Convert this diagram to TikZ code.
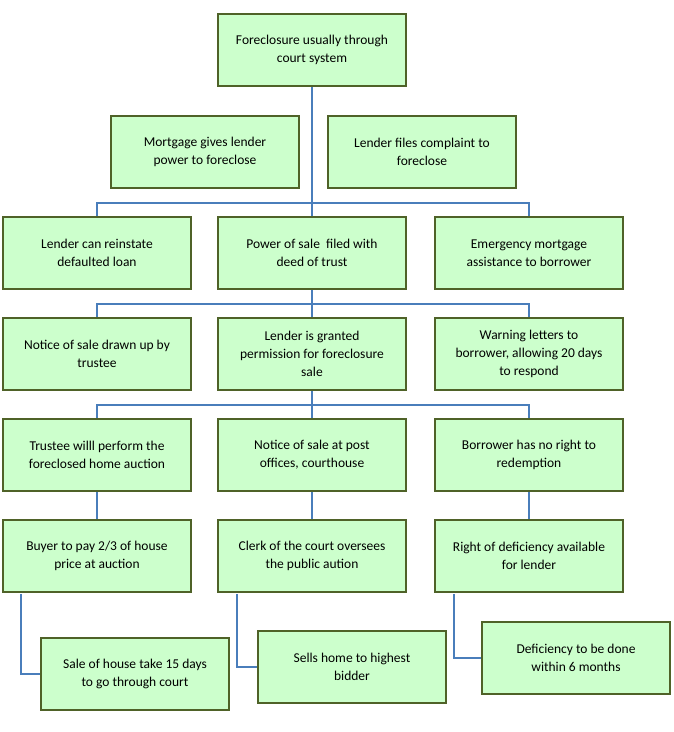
\documentclass[tikz,border=0pt]{standalone}
\usepackage{fontspec}
\setmainfont{Carlito}
\begin{document}
\begin{tikzpicture}[x=1pt,y=-1pt,
  box/.style={draw=boxline,line width=2pt,fill=boxfill,minimum width=188pt,minimum height=72pt,align=center,font=\fontsize{13.5}{18}\selectfont,inner sep=2pt},
  con/.style={draw=conline,line width=2.2pt}]
\definecolor{boxfill}{HTML}{CCFFCC}
\definecolor{boxline}{HTML}{4F6228}
\definecolor{conline}{HTML}{4A7EBB}
\useasboundingbox[fill=white] (0,0) rectangle (674,732);
\node[box] (top) at (312,50) {Foreclosure usually through\\court system};
\node[box] (mort) at (205,152) {Mortgage gives lender\\power to foreclose};
\node[box] (files) at (422,152) {Lender files complaint to\\foreclose};
\node[box] (rein) at (97,253) {Lender can reinstate\\defaulted loan};
\node[box] (pow) at (312,253) {Power of sale\ \ filed with\\deed of trust};
\node[box] (emer) at (529,253) {Emergency mortgage\\assistance to borrower};
\node[box] (notice) at (97,354) {Notice of sale drawn up by\\trustee};
\node[box] (grant) at (312,354) {Lender is granted\\permission for foreclosure\\sale};
\node[box] (warn) at (529,354) {Warning letters to\\borrower, allowing 20 days\\to respond};
\node[box] (trus) at (97,455) {Trustee willl perform the\\foreclosed home auction};
\node[box] (post) at (312,455) {Notice of sale at post\\offices, courthouse};
\node[box] (right) at (529,455) {Borrower has no right to\\redemption};
\node[box] (buy) at (97,556) {Buyer to pay 2/3 of house\\price at auction};
\node[box] (clerk) at (312,556) {Clerk of the court oversees\\the public aution};
\node[box] (defav) at (529,556) {Right of deficiency available\\for lender};
\node[box] (sale) at (135,674) {Sale of house take 15 days\\to go through court};
\node[box] (sells) at (352,667) {Sells home to highest\\bidder};
\node[box] (defic) at (576,658) {Deficiency to be done\\within 6 months};
\path[con] (top.south) -- (pow.north);
\path[con] (rein.north) -- ++(0,-13) -| (emer.north);
\path[con] (pow.south) -- (grant.north);
\path[con] (notice.north) -- ++(0,-13) -| (warn.north);
\path[con] (grant.south) -- (post.north);
\path[con] (trus.north) -- ++(0,-13) -| (right.north);
\path[con] (trus.south) -- (buy.north);
\path[con] (post.south) -- (clerk.north);
\path[con] (right.south) -- (defav.north);
\path[con] (buy.south west) ++(19,1) |- (sale.west);
\path[con] (clerk.south west) ++(20,1) |- (sells.west);
\path[con] (defav.south west) ++(20,1) |- (defic.west);
\end{tikzpicture}
\end{document}
